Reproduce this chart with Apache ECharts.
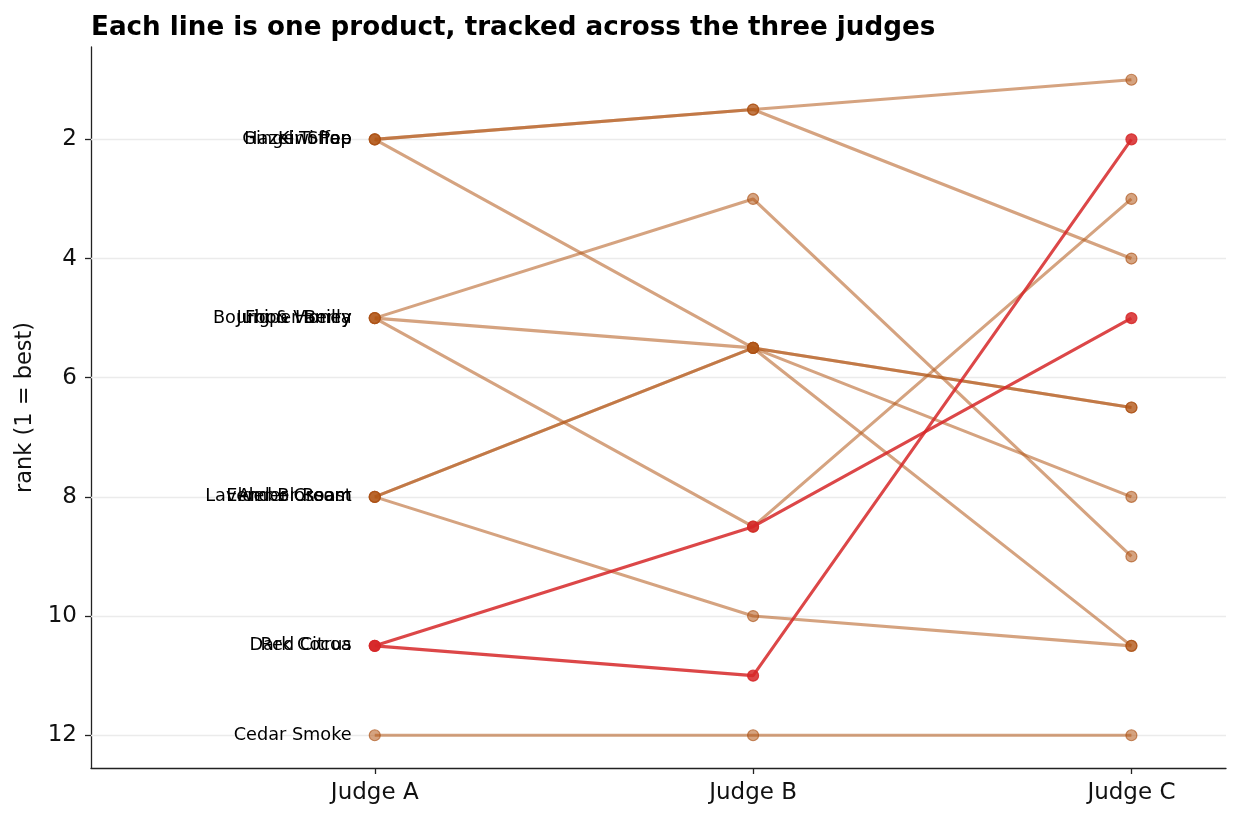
<!DOCTYPE html>
<html>
<head>
<meta charset="utf-8">
<script src="https://cdn.jsdelivr.net/npm/echarts@6/dist/echarts.min.js"></script>
<style>
html,body{margin:0;padding:0;background:#fff;}
#chart{width:1240px;height:820px;}
</style>
</head>
<body>
<div id="chart"></div>
<script>
const judges = ["Judge A", "Judge B", "Judge C"];
const products = ["Hazel Toffee", "Ginger Snap", "Kiwi Pop", "Bourbon Vanilla", "Juniper Berry", "Fig & Honey",
  "Lavender Cream", "Amber Roast", "Elder Blossom", "Dark Cocoa", "Red Citrus", "Cedar Smoke"];
const judgeA = [2, 2, 2, 5, 5, 5, 8, 8, 8, 10.5, 10.5, 12];
const judgeB = [1.5, 1.5, 5.5, 3, 5.5, 8.5, 5.5, 5.5, 10, 8.5, 11, 12];
const judgeC = [1, 4, 8, 9, 10.5, 3, 6.5, 6.5, 10.5, 5, 2, 12];
const highlighted = ["Dark Cocoa", "Red Citrus"];
const rankTicks = [2, 4, 6, 8, 10, 12];

const TAN = 'rgba(178,88,24,0.55)';
const TAN_EDGE = 'rgba(170,80,20,0.65)';
const RED = 'rgba(214,39,40,0.85)';
const FONT = 'DejaVu Sans';

const series = [{
  type: 'line', data: [], z: 1, silent: true,
  markLine: {
    silent: true, z: 1, symbol: ['none', 'none'], label: {show: false},
    lineStyle: {color: '#ebebeb', width: 1.3, type: 'solid'},
    animation: false,
    data: rankTicks.map(v => ({yAxis: v}))
  }
}];
products.forEach((name, i) => {
  const hi = highlighted.includes(name);
  const col = hi ? RED : TAN;
  series.push({
    type: 'line', name: name, z: hi ? 11 : 10,
    data: [[0, judgeA[i]], [1, judgeB[i]], [2, judgeC[i]]],
    symbol: 'circle', symbolSize: 11,
    lineStyle: {color: col, width: 3.1},
    itemStyle: {color: col, borderColor: hi ? RED : TAN_EDGE, borderWidth: 1.2},
    label: {
      show: true, position: 'left', distance: 17,
      fontFamily: FONT, fontSize: 17.7, color: '#000',
      formatter: p => p.dataIndex === 0 ? name : ''
    },
    emphasis: {disabled: true},
    animation: false
  });
});

const chart = echarts.init(document.getElementById('chart'), null, {renderer: 'canvas'});
chart.setOption({
  backgroundColor: '#fff',
  animation: false,
  title: {
    text: 'Each line is one product, tracked across the three judges',
    left: 86, top: 10,
    textStyle: {fontFamily: FONT, fontWeight: 'bold', fontSize: 26.2, color: '#000'}
  },
  grid: {left: 91, right: 14, top: 47, bottom: 52},
  xAxis: {
    type: 'value', min: -0.75, max: 2.25,
    axisLine: {show: true, onZero: false, lineStyle: {color: '#222', width: 1.3}},
    axisTick: {show: true, length: 6, lineStyle: {color: '#222', width: 1.3}, customValues: [0, 1, 2]},
    axisLabel: {customValues: [0, 1, 2], formatter: v => judges[Math.round(v)] || '',
      fontFamily: FONT, fontSize: 23, color: '#111', margin: 14},
    splitLine: {show: false}
  },
  yAxis: {
    type: 'value', inverse: true, min: 0.45, max: 12.55,
    name: 'rank (1 = best)', nameLocation: 'middle', nameGap: 52,
    nameTextStyle: {fontFamily: FONT, fontSize: 22.5, color: '#111'},
    axisLine: {show: true, onZero: false, lineStyle: {color: '#222', width: 1.3}},
    axisTick: {show: true, length: 6, lineStyle: {color: '#222', width: 1.3}, customValues: rankTicks},
    axisLabel: {customValues: rankTicks, fontFamily: FONT, fontSize: 23, color: '#111', margin: 14},
    splitLine: {show: false}
  },
  series: series
});
</script>
</body>
</html>
